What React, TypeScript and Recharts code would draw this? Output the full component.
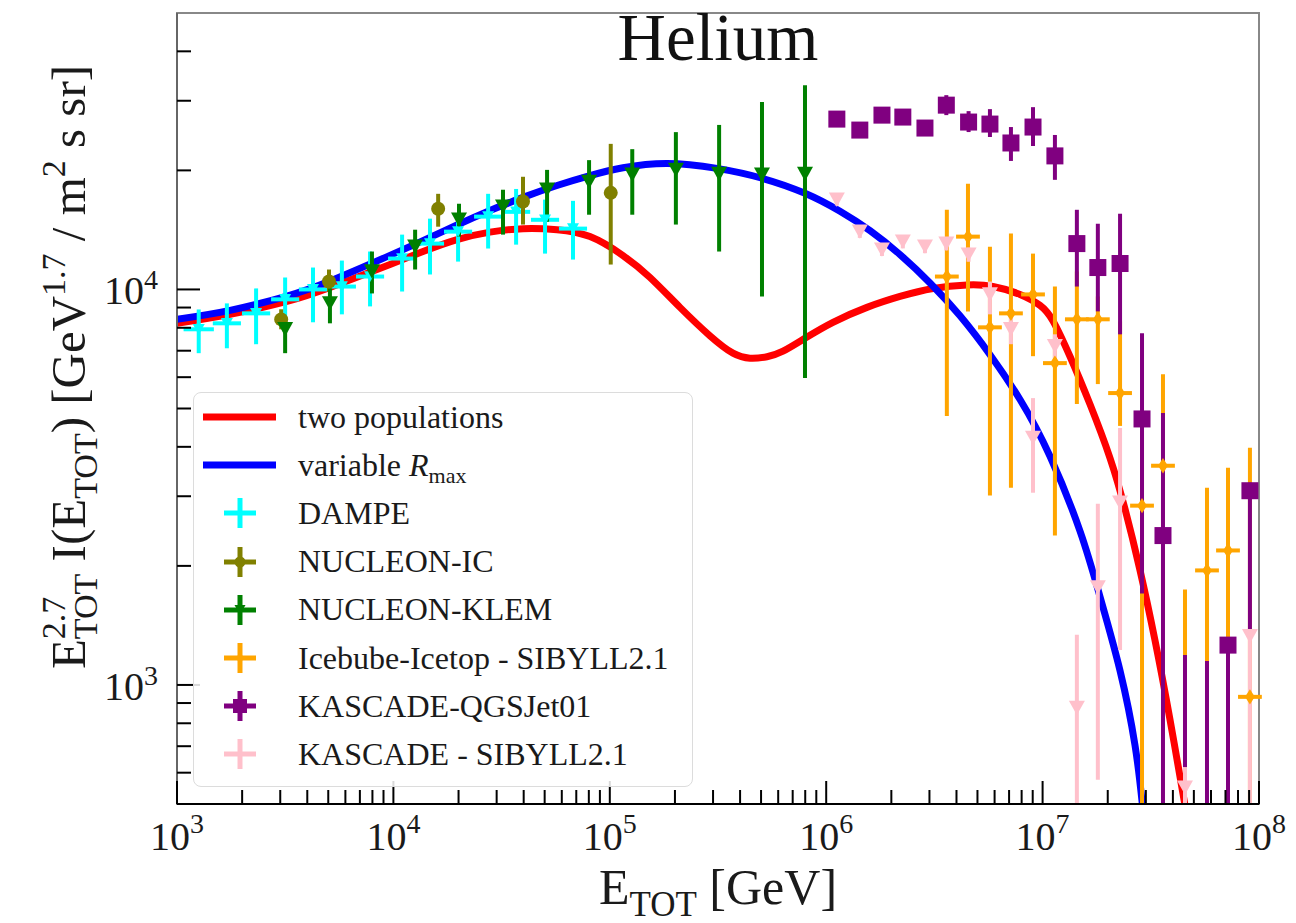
import React from "react";
import {
  ComposedChart,
  Line,
  Scatter,
  XAxis,
  YAxis,
  ErrorBar,
  ReferenceArea,
} from "recharts";

const SERIF = "'Liberation Serif', 'Times New Roman', serif";
const Y_MIN = 500;
const Y_MAX = 50000;

// model curves: E_TOT [GeV] and E^2.7 I(E) [GeV^1.7 / m^2 s sr]
const twoPopE = [1000, 1758, 3224, 5093, 9645, 13700, 19680, 27950, 39700, 57020, 80990, 115100, 153400, 211000, 290400, 370900, 444500, 532700, 631600, 798000, 1.075e6, 1.543e6, 2.193e6, 3.116e6, 4.474e6, 5.9e6, 7.863e6, 9.728e6, 1.117e7, 1.339e7, 1.656e7, 2.049e7, 2.403e7, 2.818e7, 3.307e7, 3.879e7, 4.55e7, 4.799e7];
const twoPopI = [8210, 8651, 9328, 10117, 11560, 12466, 13365, 13960, 14247, 14164, 13601, 12181, 10720, 9009, 7634, 6900, 6703, 6760, 6980, 7526, 8258, 9009, 9602, 10058, 10265, 10176, 9714, 9114, 8325, 6768, 5123, 3747, 2786, 1951, 1296, 817, 496, 417];

const varRmaxE = [1000, 1758, 3224, 5093, 9645, 13700, 19680, 27950, 39700, 57020, 80990, 115100, 183800, 312900, 505100, 798000, 1.158e6, 1.594e6, 2.193e6, 3.018e6, 4.153e6, 5.714e6, 7.863e6, 1.082e7, 1.489e7, 1.842e7, 2.279e7, 2.673e7, 2.879e7, 3.005e7];
const varRmaxI = [8404, 8853, 9619, 10499, 12194, 13287, 14553, 15831, 17093, 18313, 19395, 20302, 20827, 20232, 19105, 17504, 15767, 14081, 12250, 10384, 8575, 6840, 5268, 3786, 2449, 1671, 1087, 704, 509, 407];

// DAMPE
const dampeE = [1260, 1700, 2320, 3160, 4250, 5780, 7800, 10970, 14760, 19900, 27400, 36900, 50200, 67600];
const dampeI = [7930, 8210, 8700, 9440, 10000, 10170, 10780, 11970, 13060, 14000, 15280, 15710, 15000, 14250];
const dampeLo = [6900, 7100, 7270, 7930, 8260, 8650, 9060, 9880, 10910, 11760, 12690, 12980, 12320, 11900];
const dampeHi = [8900, 9220, 10060, 10720, 11360, 11830, 12470, 13760, 15100, 15530, 17450, 17950, 16870, 16750];
const dampeBinDex = [0.07, 0.065, 0.065, 0.065, 0.065, 0.065, 0.065, 0.065, 0.065, 0.065, 0.065, 0.065, 0.065, 0.065];

// NUCLEON-IC
const icE = [3030, 5040, 16100, 39700, 101000];
const icI = [8400, 10470, 16000, 16680, 17550];
const icLo = [7930, 9880, 14410, 14590, 11560];
const icHi = [8910, 11230, 17450, 19270, 23340];

// NUCLEON-KLEM
const klemE = [3160, 5090, 7960, 12600, 20100, 32100, 51300, 80200, 127000, 202000, 320000, 505000, 798000];
const klemI = [7930, 9220, 11100, 12830, 15000, 16180, 17870, 18710, 19490, 20060, 19590, 19490, 19590];
const klemLo = [6900, 8210, 9770, 11230, 13600, 13760, 14830, 15450, 15450, 14590, 12470, 9600, 5970];
const klemHi = [8400, 10060, 12470, 14160, 16470, 17870, 20060, 21230, 22630, 24990, 26060, 29780, 32810];

// IceCube-IceTop, SIBYLL2.1
const iceE = [3.61e6, 4.52e6, 5.71e6, 7.14e6, 9.03e6, 1.14e7, 1.44e7, 1.8e7, 2.28e7, 2.88e7, 3.6e7, 4.55e7, 5.75e7, 7.19e7, 9.08e7];
const iceI = [10780, 13600, 8020, 8700, 9714, 6512, 8404, 8404, 5470, 2840, 3583, 380, 1948, 2188, 933];
const iceLo = [4786, 8800, 3011, 3152, 6780, 2386, 5133, 5764, 4518, 300, 1458, 100, 1100, 1250, 400];
const iceHi = [15900, 18490, 12830, 13840, 12320, 10170, 11100, 9600, 8300, 4387, 6107, 1744, 3152, 3541, 3977];
const iceBinDex = [0.055, 0.055, 0.055, 0.055, 0.055, 0.055, 0.055, 0.055, 0.055, 0.055, 0.055, 0.055, 0.055, 0.055, 0.055];

// KASCADE, QGSJet01
const qgsE = [1.12e6, 1.43e6, 1.81e6, 2.26e6, 2.86e6, 3.59e6, 4.55e6, 5.71e6, 7.14e6, 9.03e6, 1.14e7, 1.44e7, 1.8e7, 2.28e7, 2.88e7, 3.6e7, 4.55e7, 5.75e7, 7.19e7, 9.08e7];
const qgsI = [26960, 25290, 27590, 27280, 25590, 29240, 26500, 26190, 23460, 25740, 21760, 13060, 11360, 11630, 4705, 2386, 420, 400, 1261, 3098];
const qgsLo = [26000, 24400, 26700, 26400, 24700, 27590, 25000, 24290, 21130, 23050, 18930, 10170, 8800, 7700, 1704, 300, 100, 100, 200, 1375];
const qgsHi = [27900, 26200, 28500, 28200, 26500, 30990, 28240, 28570, 25740, 28900, 24580, 15900, 14660, 15540, 7747, 4872, 1190, 1149, 1321, 3246];

// KASCADE, SIBYLL2.1
const sibE = [1.12e6, 1.43e6, 1.81e6, 2.26e6, 2.86e6, 3.59e6, 4.55e6, 5.71e6, 7.14e6, 9.03e6, 1.14e7, 1.44e7, 1.8e7, 2.28e7, 4.55e7, 9.08e7];
const sibI = [16850, 14000, 12610, 13210, 12830, 13060, 12250, 9714, 7930, 4214, 7186, 875, 1765, 2891, 550, 1328];
const sibLo = [16300, 13500, 12150, 12700, 12350, 12550, 11750, 8650, 7270, 3062, 6701, 300, 576, 1225, 480, 300];
const sibHi = [17400, 14500, 13100, 13700, 13300, 13550, 12750, 10470, 8550, 5312, 7700, 1340, 2873, 4466, 620, 1375];

const xTicks = [1e3, 2e3, 3e3, 4e3, 5e3, 6e3, 7e3, 8e3, 9e3, 1e4, 2e4, 3e4, 4e4, 5e4, 6e4, 7e4, 8e4, 9e4, 1e5, 2e5, 3e5, 4e5, 5e5, 6e5, 7e5, 8e5, 9e5, 1e6, 2e6, 3e6, 4e6, 5e6, 6e6, 7e6, 8e6, 9e6, 1e7, 2e7, 3e7, 4e7, 5e7, 6e7, 7e7, 8e7, 9e7, 1e8];
const yTicks = [600, 700, 800, 900, 1e3, 2e3, 3e3, 4e3, 5e3, 6e3, 7e3, 8e3, 9e3, 1e4, 2e4, 3e4, 4e4];

const COLORS = {
  red: "#ff0000",
  blue: "#0000ff",
  dampe: "#00ffff",
  ic: "#808000",
  klem: "#008000",
  ice: "#ffa500",
  qgs: "#800080",
  sib: "#ffc0cb",
};

const curve = (E: number[], I: number[]) => E.map((e, i) => ({ E: e, I: I[i] }));

// error bars are cut at the frame edges (recharts does not clip them)
const points = (E: number[], I: number[], lo: number[], hi: number[], dex?: number[]) =>
  E.map((e, i) => {
    const inside = I[i] >= Y_MIN;
    return {
      E: e,
      I: I[i],
      inside,
      ey: [I[i] - Math.max(lo[i], Y_MIN), Math.min(hi[i], Y_MAX) - I[i]],
      ex: dex && inside ? [e - e / Math.pow(10, dex[i]), e * Math.pow(10, dex[i]) - e] : [0, 0],
    };
  });

const twoPop = curve(twoPopE, twoPopI);
const varRmax = curve(varRmaxE, varRmaxI);
const dampe = points(dampeE, dampeI, dampeLo, dampeHi, dampeBinDex);
const nucIC = points(icE, icI, icLo, icHi);
const nucKLEM = points(klemE, klemI, klemLo, klemHi);
const icetop = points(iceE, iceI, iceLo, iceHi, iceBinDex);
const kasQGS = points(qgsE, qgsI, qgsLo, qgsHi);
const kasSIB = points(sibE, sibI, sibLo, sibHi);

type MarkerKind = "tri" | "circle" | "square" | "diamond";

function drawMarker(kind: MarkerKind, cx: number, cy: number, s: number, color: string) {
  if (kind === "tri")
    return <path d={`M${cx - s / 2},${cy - s * 0.45} L${cx + s / 2},${cy - s * 0.45} L${cx},${cy + s * 0.45} Z`} fill={color} />;
  if (kind === "circle") return <circle cx={cx} cy={cy} r={s / 2} fill={color} />;
  if (kind === "square") return <rect x={cx - s / 2} y={cy - s / 2} width={s} height={s} fill={color} />;
  return <path d={`M${cx},${cy - s * 0.55} L${cx + s * 0.35},${cy} L${cx},${cy + s * 0.55} L${cx - s * 0.35},${cy} Z`} fill={color} />;
}

const shape = (kind: MarkerKind, s: number, color: string) => (p: any) =>
  p.payload && p.payload.inside === false ? <g /> : drawMarker(kind, p.cx, p.cy, s, color);

function XTick(props: any) {
  const { x, y, payload } = props;
  const v = payload.value;
  const exp = Math.round(Math.log10(v));
  const major = Math.abs(v / Math.pow(10, exp) - 1) < 1e-6;
  return (
    <g>
      <line x1={x} y1={y} x2={x} y2={y - (major ? 23 : 14)} stroke="#000" strokeWidth={2} />
      {major && (
        <text x={x} y={y + 46} textAnchor="middle" fontFamily={SERIF} fontSize={40} fill="#1a1a1a">
          10<tspan dy={-17} fontSize={28}>{exp}</tspan>
        </text>
      )}
    </g>
  );
}

function YTick(props: any) {
  const { x, y, payload } = props;
  const v = payload.value;
  const exp = Math.round(Math.log10(v));
  const major = Math.abs(v / Math.pow(10, exp) - 1) < 1e-6;
  return (
    <g>
      <line x1={x} y1={y} x2={x + (major ? 23 : 14)} y2={y} stroke="#000" strokeWidth={2} />
      {major && (
        <text x={x - 19} y={y + 15} textAnchor="end" fontFamily={SERIF} fontSize={40} fill="#1a1a1a">
          10<tspan dy={-15} fontSize={28}>{exp}</tspan>
        </text>
      )}
    </g>
  );
}

function XTitle() {
  return (
    <text x={718} y={904} textAnchor="middle" fontFamily={SERIF} fontSize={50} fill="#1a1a1a">
      E<tspan fontSize={35} dy={12}>TOT</tspan>
      <tspan dy={-12}> [GeV]</tspan>
    </text>
  );
}

function YTitle() {
  return (
    <text transform="rotate(-90)" x={-367} y={85} textAnchor="middle" fontFamily={SERIF} fontSize={49} fill="#1a1a1a">
      E<tspan fontSize={34} dy={-20}>2.7</tspan>
      <tspan fontSize={34} dx={-42.5} dy={32}>TOT</tspan>
      <tspan dy={-12}> I(E</tspan>
      <tspan fontSize={34} dy={12}>TOT</tspan>
      <tspan dy={-12}>) [GeV</tspan>
      <tspan fontSize={34} dy={-20}>1.7</tspan>
      <tspan dy={20}> / m</tspan>
      <tspan fontSize={34} dy={-20}>2</tspan>
      <tspan dy={20}> s sr]</tspan>
    </text>
  );
}

const legendRows: { label: React.ReactNode; color: string; kind: "line" | MarkerKind | "none" }[] = [
  { label: "two populations", color: COLORS.red, kind: "line" },
  {
    label: (
      <>
        variable <i>R</i>
        <span style={{ fontSize: 22, position: "relative", top: 7 }}>max</span>
      </>
    ),
    color: COLORS.blue,
    kind: "line",
  },
  { label: "DAMPE", color: COLORS.dampe, kind: "none" },
  { label: "NUCLEON-IC", color: COLORS.ic, kind: "circle" },
  { label: "NUCLEON-KLEM", color: COLORS.klem, kind: "tri" },
  { label: "Icebube-Icetop - SIBYLL2.1", color: COLORS.ice, kind: "diamond" },
  { label: "KASCADE-QGSJet01", color: COLORS.qgs, kind: "square" },
  { label: "KASCADE - SIBYLL2.1", color: COLORS.sib, kind: "none" },
];

function LegendBox() {
  return (
    <div
      style={{
        position: "absolute",
        left: 193,
        top: 392,
        width: 500,
        height: 395,
        boxSizing: "border-box",
        border: "1.5px solid #dcdcdc",
        borderRadius: 8,
        background: "rgba(255,255,255,0.85)",
        fontFamily: SERIF,
        fontSize: 32,
        color: "#1a1a1a",
      }}
    >
      {legendRows.map((r, i) => (
        <div
          key={i}
          style={{ position: "absolute", left: 0, top: i * 48.2, height: 48, display: "flex", alignItems: "center", whiteSpace: "nowrap" }}
        >
          <svg width={104} height={48} style={{ flex: "none" }}>
            {r.kind === "line" ? (
              <line x1={9} x2={82} y1={24} y2={24} stroke={r.color} strokeWidth={7} />
            ) : (
              <g>
                <line x1={46} x2={46} y1={9} y2={39} stroke={r.color} strokeWidth={5} />
                <line x1={30} x2={62} y1={24} y2={24} stroke={r.color} strokeWidth={5} />
                {r.kind !== "none" && drawMarker(r.kind, 46, 24, r.kind === "square" ? 14 : 11, r.color)}
              </g>
            )}
          </svg>
          <span>{r.label}</span>
        </div>
      ))}
    </div>
  );
}

export default function App() {
  return (
    <div style={{ position: "absolute", left: 0, top: 0, width: 1296, height: 923, background: "#fff" }}>
      <ComposedChart width={1296} height={923} margin={{ top: 13, right: 37, bottom: 0, left: 0 }}>
        <XAxis
          dataKey="E"
          type="number"
          scale="log"
          domain={[1e3, 1e8]}
          allowDataOverflow
          ticks={xTicks}
          interval={0}
          tick={<XTick />}
          tickLine={false}
          tickSize={0}
          tickMargin={0}
          axisLine={{ stroke: "#000", strokeWidth: 2 }}
          height={119}
          label={<XTitle />}
        />
        <YAxis
          dataKey="I"
          type="number"
          scale="log"
          domain={[Y_MIN, Y_MAX]}
          allowDataOverflow
          ticks={yTicks}
          interval={0}
          tick={<YTick />}
          tickLine={false}
          tickSize={0}
          tickMargin={0}
          axisLine={{ stroke: "#666", strokeWidth: 2 }}
          width={177}
          label={<YTitle />}
        />
        <ReferenceArea x1={1e3} x2={1e8} y1={Y_MIN} y2={Y_MAX} fill="none" stroke="#888" strokeWidth={2} />

        <Line data={twoPop} dataKey="I" type="natural" stroke={COLORS.red} strokeWidth={7} dot={false} isAnimationActive={false} />
        <Line data={varRmax} dataKey="I" type="natural" stroke={COLORS.blue} strokeWidth={7} dot={false} isAnimationActive={false} />

        <Scatter data={dampe} shape={shape("tri", 12, COLORS.dampe)} isAnimationActive={false}>
          <ErrorBar dataKey="ey" direction="y" width={0} stroke={COLORS.dampe} strokeWidth={4} />
          <ErrorBar dataKey="ex" direction="x" width={0} stroke={COLORS.dampe} strokeWidth={4} />
        </Scatter>
        <Scatter data={nucIC} shape={shape("circle", 14, COLORS.ic)} isAnimationActive={false}>
          <ErrorBar dataKey="ey" direction="y" width={0} stroke={COLORS.ic} strokeWidth={4} />
        </Scatter>
        <Scatter data={nucKLEM} shape={shape("tri", 16, COLORS.klem)} isAnimationActive={false}>
          <ErrorBar dataKey="ey" direction="y" width={0} stroke={COLORS.klem} strokeWidth={4} />
        </Scatter>
        <Scatter data={icetop} shape={shape("diamond", 14, COLORS.ice)} isAnimationActive={false}>
          <ErrorBar dataKey="ey" direction="y" width={0} stroke={COLORS.ice} strokeWidth={4} />
          <ErrorBar dataKey="ex" direction="x" width={0} stroke={COLORS.ice} strokeWidth={4} />
        </Scatter>
        <Scatter data={kasQGS} shape={shape("square", 17, COLORS.qgs)} isAnimationActive={false}>
          <ErrorBar dataKey="ey" direction="y" width={0} stroke={COLORS.qgs} strokeWidth={4} />
        </Scatter>
        <Scatter data={kasSIB} shape={shape("tri", 16, COLORS.sib)} isAnimationActive={false}>
          <ErrorBar dataKey="ey" direction="y" width={0} stroke={COLORS.sib} strokeWidth={4} />
        </Scatter>
      </ComposedChart>

      <div
        style={{
          position: "absolute",
          left: 418,
          top: 4,
          width: 600,
          textAlign: "center",
          fontFamily: SERIF,
          fontSize: 67,
          lineHeight: 1,
          color: "#111",
        }}
      >
        Helium
      </div>
      <LegendBox />
    </div>
  );
}
